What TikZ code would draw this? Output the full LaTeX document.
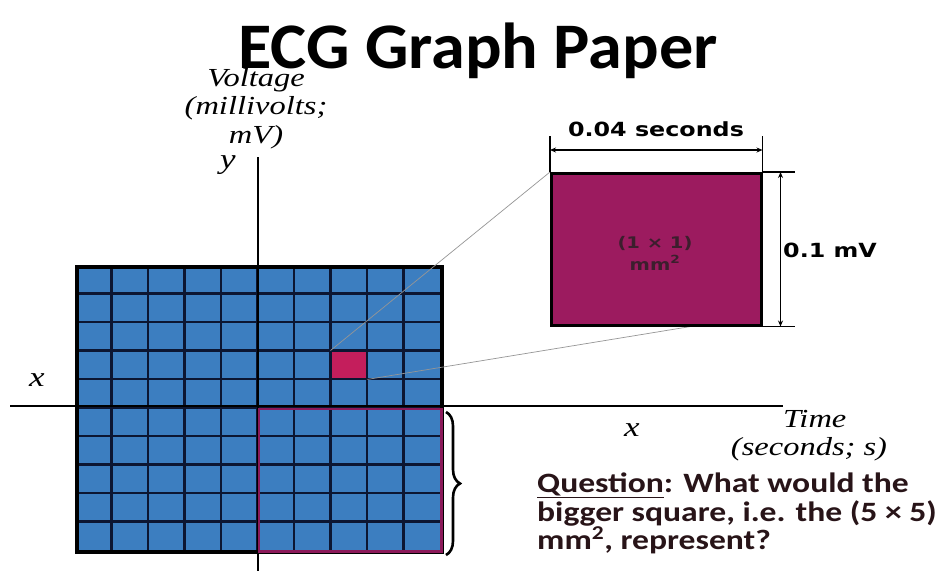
\documentclass[tikz,border=0pt]{standalone}
\usepackage{fontspec}
\setmainfont{Liberation Serif}
\newfontfamily\titlefont{Carlito}[FakeStretch=1.05]
\newfontfamily\qfont{Carlito}
\newfontfamily\dimfont{DejaVu Sans}[FakeStretch=1.22]
\newfontfamily\itfont{Liberation Serif}[FakeStretch=1.25]
\usetikzlibrary{decorations.pathreplacing,arrows.meta}
\definecolor{gridblue}{RGB}{60,126,192}
\definecolor{gridline}{RGB}{12,22,50}
\definecolor{smallred}{RGB}{196,30,92}
\definecolor{zoomfill}{RGB}{156,27,95}
\definecolor{outlinemag}{RGB}{140,26,90}
\definecolor{qtext}{RGB}{40,20,24}
\definecolor{guide}{RGB}{150,150,150}
\definecolor{intext}{RGB}{60,30,45}
\tikzset{
  axis/.style={line width=2.8pt, black},
  gline/.style={line width=2.2pt, gridline},
  guideline/.style={line width=0.7pt, guide},
  dimline/.style={line width=1.4pt, black},
  dimarrow/.style={line width=1.4pt, black, {Stealth[length=6pt,width=5pt]}-{Stealth[length=6pt,width=5pt]}},
  italabel/.style={font=\itfont\itshape\fontsize{26}{28.5}\selectfont, inner sep=0pt, align=center},
  boldsans/.style={font=\dimfont\bfseries\fontsize{19.5}{22}\selectfont, inner sep=0pt},
  qline/.style={font=\qfont\bfseries\fontsize{28}{28.5}\selectfont, text=qtext, anchor=base west, inner sep=0pt},
}
\begin{document}
\begin{tikzpicture}[x=1pt,y=-1pt]
\useasboundingbox[fill=white] (0,0) rectangle (948,571);
% title
\node[font=\titlefont\bfseries\fontsize{65}{70}\selectfont, inner sep=0pt, anchor=base] (title) at (478,68) {ECG Graph Paper};
% grid
\fill[gridblue] (75,265) rectangle (440,550);
\node[fill=smallred, minimum width=36.5pt, minimum height=28.5pt, inner sep=0pt, anchor=north west] (red) at (330.5,350.5) {};
\foreach \i in {1,...,9} {
  \draw[gline] ({75+36.5*\i},265) -- ({75+36.5*\i},550);
  \draw[gline] (75,{265+28.5*\i}) -- (440,{265+28.5*\i});
}
\node[draw=black, line width=3.5pt, minimum width=365pt, minimum height=285pt, inner sep=0pt, anchor=north west] (grid) at (75,265) {};
% axes
\coordinate (yt) at (258,157);
\coordinate (yb) at (258,571);
\coordinate (xl) at (10,406);
\coordinate (xr) at (783,406);
\draw[axis] (yt) -- (yb);
\draw[axis] (xl) -- (xr);
% bigger square outline
\node[draw=outlinemag, line width=2.5pt, minimum width=182.5pt, minimum height=142.5pt, inner sep=0pt, anchor=north west] (big) at (257.5,407.5) {};
% guide lines
\coordinate (hit) at (706,324);
\draw[guideline] (red.south east) -- (hit);
\coordinate (zoomnw) at (550,172);
\draw[guideline] (red.north west) -- (zoomnw);
% zoom square
\node[fill=zoomfill, draw=black, line width=2.5pt, minimum width=210pt, minimum height=152pt, inner sep=0pt, anchor=north west] (zoom) at (zoomnw) {};
\node[font=\dimfont\bfseries\fontsize{16}{22}\selectfont, text=intext, align=center, inner sep=0pt] (area) at (655,253) {(1 × 1)\\mm\textsuperscript{2}};
% top dimension
\coordinate (tl) at ([yshift=36pt]zoom.north west);
\coordinate (tr) at ([yshift=36pt]zoom.north east);
\draw[dimline] (zoom.north west) -- (tl);
\draw[dimline] (zoom.north east) -- (tr);
\draw[dimarrow] ([yshift=-14pt]tl) -- ([yshift=-14pt]tr);
\node[boldsans, anchor=base] (sec) at (656,136) {0.04 seconds};
% right dimension
\coordinate (rt) at ([xshift=32pt]zoom.north east);
\coordinate (rb) at ([xshift=32pt]zoom.south east);
\draw[dimline] (zoom.north east) -- (rt);
\draw[dimline] (zoom.south east) -- (rb);
\draw[dimarrow] ([xshift=-14pt]rt) -- ([xshift=-14pt]rb);
\node[boldsans, anchor=west] (mv) at (783,250) {0.1 mV};
% brace
\draw[line width=2.6pt, decorate, decoration={brace, amplitude=14pt}] (446,412) -- (446,555) coordinate[midway] (bm);
% axis labels
\node[italabel, anchor=base] (volt) at (256,143) {Voltage\\(millivolts;\\mV)};
\node[italabel, font=\itfont\itshape\fontsize{28}{30}\selectfont] (ylab) at (228,165) {y};
\node[italabel, font=\itfont\itshape\fontsize{28}{30}\selectfont] (xlab1) at (37,380) {x};
\node[italabel, font=\itfont\itshape\fontsize{28}{30}\selectfont] (xlab2) at (632,430) {x};
\node[italabel, anchor=base west] (time) at (783,427) {Time};
\node[italabel, anchor=base] (secs) at (809,455) {(seconds; s)};
% question
\node[qline] (q1) at (537,492) {\scalebox{1.2}[1]{\underline{Question}: What would the}};
\node[qline] (q2) at (537,521) {\scalebox{1.2}[1]{bigger square, i.e. the (5 × 5)}};
\node[qline] (q3) at (537,549) {\scalebox{1.2}[1]{mm\textsuperscript{2}, represent?}};
\end{tikzpicture}
\end{document}
